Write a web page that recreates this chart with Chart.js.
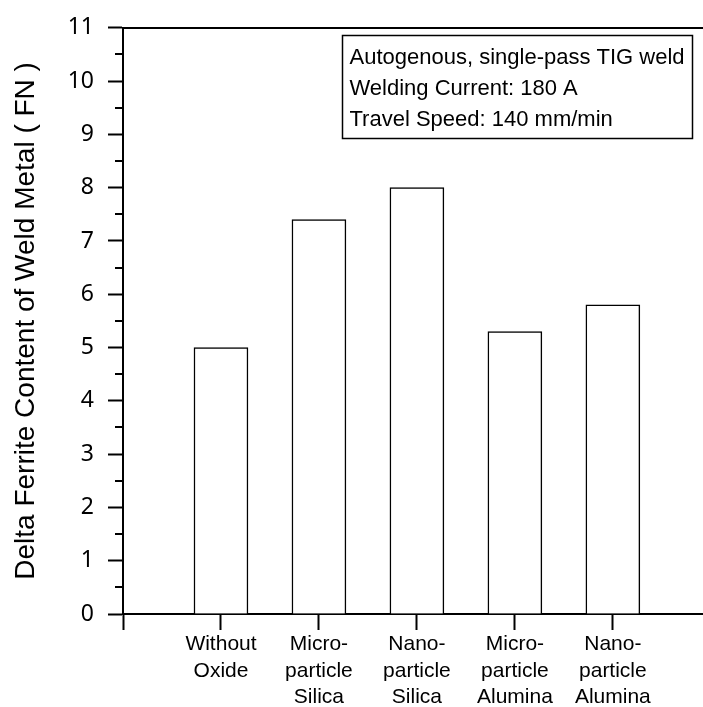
<!DOCTYPE html>
<html>
<head>
<meta charset="utf-8">
<script src="https://cdn.jsdelivr.net/npm/chart.js@4"></script>
<style>
  html, body { margin: 0; padding: 0; background: #fff; overflow: hidden; }
  #wrap { width: 703px; height: 707px; }
</style>
</head>
<body>
<div id="wrap"><canvas id="ferrite-chart" width="703" height="707"></canvas></div>
<script>
// categories (multi-line tick labels) and measured ferrite numbers
const categories = [
    ['Without', 'Oxide'],
    ['Micro-', 'particle', 'Silica'],
    ['Nano-', 'particle', 'Silica'],
    ['Micro-', 'particle', 'Alumina'],
    ['Nano-', 'particle', 'Alumina']
];
const ferriteFN = [5.0, 7.4, 8.0, 5.3, 5.8];
const yTicks = [0, 1, 2, 3, 4, 5, 6, 7, 8, 9, 10, 11];
const yMinorTicks = [0.5, 1.5, 2.5, 3.5, 4.5, 5.5, 6.5, 7.5, 8.5, 9.5, 10.5];
const noteLines = [
    'Autogenous, single-pass TIG weld',
    'Welding Current: 180 A',
    'Travel Speed: 140 mm/min'
];

const points = ferriteFN.map((v, i) => ({x: i, y: v}));

// minor y ticks + the text box in the top right
const extras = {
    id: 'extras',
    afterDraw(chart) {
        const ctx = chart.ctx;
        const y = chart.scales.y;
        const left = chart.chartArea.left;
        ctx.save();
        ctx.strokeStyle = '#000';
        ctx.lineWidth = 2;
        ctx.beginPath();
        yMinorTicks.forEach(v => {
            const py = Math.round(y.getPixelForValue(v));
            ctx.moveTo(left - 8, py);
            ctx.lineTo(left, py);
        });
        ctx.stroke();

        const bx = 342.5, by = 35.5, bw = 350, bh = 103;
        ctx.lineWidth = 1.5;
        ctx.strokeRect(bx, by, bw, bh);
        ctx.fillStyle = '#000';
        ctx.font = '22px "Liberation Sans", Arial, sans-serif';
        ctx.textBaseline = 'middle';
        ctx.textAlign = 'left';
        noteLines.forEach((t, i) => ctx.fillText(t, bx + 7, by + 22 + i * 31));
        ctx.restore();
    }
};

const ctx = document.getElementById('ferrite-chart').getContext('2d');
const chart = new Chart(ctx, {
    type: 'bar',
    data: { datasets: [{
        data: points,
        backgroundColor: '#fff',
        borderColor: '#000',
        borderWidth: 1.5,
        barThickness: 54
    }]},
    options: {
        responsive: false,
        animation: false,
        maintainAspectRatio: false,
        layout: { padding: 0 },
        plugins: { legend: { display: false }, tooltip: { enabled: false } },
        scales: {
            x: {
                type: 'linear', position: 'bottom', min: -1, max: 4.92, offset: false,
                afterBuildTicks: (s) => { s.ticks = [-1, 0, 1, 2, 3, 4].map(v => ({value: v})); },
                afterFit: (s) => { s.height = 93; },
                border: { color: '#000', width: 2 },
                grid: { drawOnChartArea: false, offset: false, tickLength: 16, tickColor: '#000', tickWidth: 2 },
                ticks: {
                    color: '#000', maxRotation: 0, autoSkip: false, padding: 1,
                    font: { family: '"Liberation Sans", Arial, sans-serif', size: 21, lineHeight: 1.27 },
                    callback: (v) => (v >= 0 && v < categories.length) ? categories[v] : ''
                }
            },
            top: {
                type: 'linear', position: 'top', min: -1, max: 4.92, offset: false,
                afterFit: (s) => { s.height = 24; },
                border: { color: '#000', width: 2 },
                grid: { display: false },
                ticks: { display: false }
            },
            y: {
                type: 'linear', min: 0, max: 11,
                afterBuildTicks: (s) => { s.ticks = yTicks.map(v => ({value: v})); },
                afterFit: (s) => { s.width = 123; },
                border: { color: '#000', width: 2 },
                grid: { drawOnChartArea: false, tickLength: 15, tickColor: '#000', tickWidth: 2 },
                ticks: {
                    color: '#000', padding: 14,
                    font: { family: '"Noto Sans", sans-serif', size: 23 }
                },
                title: {
                    display: true, text: 'Delta Ferrite Content of Weld Metal ( FN )',
                    color: '#000', padding: { top: 9, bottom: 0 },
                    font: { family: '"Liberation Sans", Arial, sans-serif', size: 28 }
                }
            }
        }
    },
    plugins: [extras]
});
</script>
</body>
</html>
